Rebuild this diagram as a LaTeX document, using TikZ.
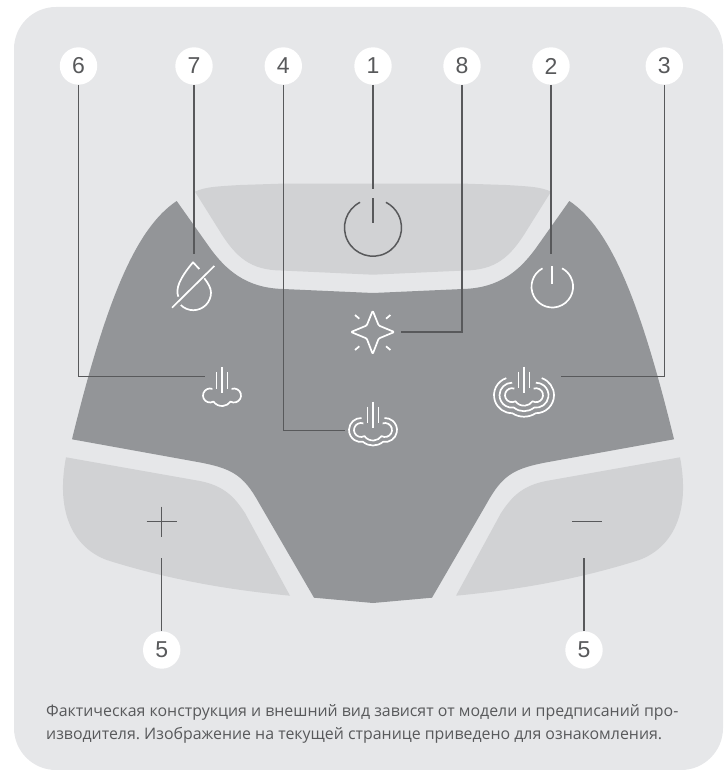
\documentclass[tikz,border=0pt]{standalone}
\usepackage{fontspec}
\setmainfont{Liberation Sans}
\newfontfamily\notefont{Open Sans}
\usepackage{xcolor}
\definecolor{panelgray}{RGB}{230,231,233}
\definecolor{keygray}{RGB}{209,210,212}
\definecolor{bodygray}{RGB}{147,149,152}
\definecolor{linegray}{RGB}{88,89,91}
\tikzset{
  panel/.style={fill=panelgray, rounded corners=42pt},
  softkey/.style={fill=keygray},
  bodyshape/.style={fill=bodygray},
  numcirc/.style={circle, fill=white, inner sep=0pt, minimum size=37.4pt,
    text=linegray, font=\fontsize{23}{23}\selectfont},
  callout/.style={draw=linegray, line width=1.5pt},
  darkicon/.style={draw=linegray, line width=1.5pt},
  whiteicon/.style={draw=white, line width=1.7pt, line join=round},
  note/.style={anchor=north west, inner sep=0pt, align=left, text=linegray,
    font=\notefont\frenchspacing\fontsize{15.9}{22.5}\selectfont}
}
% one outline of the cloud, #3 is the offset from the innermost one
\newcommand{\steamline}[3]{
  \pgfmathsetmacro{\ra}{7+#3}
  \pgfmathsetmacro{\rb}{10.5+#3}
  \pgfmathsetmacro{\ca}{(82.75-7*#3)/24}
  \pgfmathsetmacro{\hh}{sqrt(\ra*\ra-\ca*\ca)}
  \pgfmathsetmacro{\ta}{atan2(\hh,\ca)-360}
  \pgfmathsetmacro{\tb}{atan2(\hh,\ca-12)}
  \pgfmathsetmacro{\ts}{-70-3.5*#3}
  \draw[whiteicon] ({#1-12+\ra*cos(\ts)},{#2+28.5+\ra*sin(\ts)})
    arc[start angle=\ts, end angle=\ta, radius=\ra]
    arc[start angle=\tb, end angle=180-\tb, radius=\rb]
    arc[start angle=180-\ta-360, end angle=-180-\ts, radius=\ra];
}
\newcommand{\steamstems}[2]{
  \draw[whiteicon] (#1,#2) -- (#1,#2+26);
  \draw[whiteicon] (#1-5.6,#2+5) -- (#1-5.6,#2+21.5);
  \draw[whiteicon] (#1+5.6,#2+5) -- (#1+5.6,#2+21.5);
}
\begin{document}
\begin{tikzpicture}[x=1pt, y=-1pt]
  \useasboundingbox (0,0) rectangle (723,770);
  \fill[panel] (14,7) rectangle (723,770);

  % device
  \fill[bodyshape] (176.7,201) -- (210,248) .. controls (226,270) and (246,288) .. (283,289)
    -- (373,293) -- (463,289) .. controls (500,288) and (520,270) .. (536,248) -- (569.3,201)
    .. controls (610,228) and (640,300) .. (674,439.3) -- (550,461.7)
    .. controls (515,468) and (503,474) .. (487,503) -- (432,597.7) -- (373,603) -- (314,597.7)
    -- (259,503) .. controls (243,474) and (231,468) .. (196,461.7) -- (72,439.3)
    .. controls (106,300) and (136,228) .. cycle;
  \fill[softkey] (195,191.7) .. controls (205,187) and (215,186.5) .. (240,185) -- (286,183.5)
    -- (460,183.5) -- (506,185) .. controls (531,186.5) and (541,187) .. (551,191.7)
    -- (527,230) .. controls (510,258) and (495,270) .. (465,270.5) -- (373,274.7)
    -- (281,270.5) .. controls (251,270) and (236,258) .. (219,230) -- cycle;
  \fill[softkey] (66,457.3) -- (200,481) .. controls (225,486) and (235,498) .. (245,513)
    -- (290,595.7) .. controls (230,590) and (170,580) .. (106.7,560)
    .. controls (75,548) and (55,515) .. cycle;
  \fill[softkey] (680,457.3) -- (546,481) .. controls (521,486) and (511,498) .. (501,513)
    -- (456,595.7) .. controls (516,590) and (576,580) .. (639.3,560)
    .. controls (671,548) and (691,515) .. cycle;

  % icons
  \draw[darkicon] (373,227.7) ++(-117:28.5) arc[start angle=-117, end angle=-423, radius=28.5];
  \draw[darkicon] (373,198.3) -- (373,223.3);
  \draw[darkicon] (146.7,521.7) -- (176.7,521.7);
  \draw[darkicon] (161.7,506.7) -- (161.7,536.7);
  \draw[darkicon] (572.3,521.7) -- (601.7,521.7);
  \draw[whiteicon] (552.3,286.7) ++(-118:20.8) arc[start angle=-118, end angle=-422, radius=20.8];
  \draw[whiteicon] (552.3,266) -- (552.3,284);
  \draw[whiteicon] (178.3,296.7) .. controls (175.5,289) and (179,279) .. (193,262.3) -- (199.3,269);
  \draw[whiteicon] (204.3,278.3) .. controls (208,283) and (211,288) .. (211,292.5)
    arc[start angle=0, end angle=135, radius=17.7];
  \draw[whiteicon] (172,307.7) -- (214.3,266);
  \draw[whiteicon, rounded corners=1pt] (372.7,310.7) -- (378.7,325.5) -- (394.3,332) -- (378.7,338.5)
    -- (372.7,354) -- (366.7,338.5) -- (351,332) -- (366.7,325.5) -- cycle;
  \draw[whiteicon] (355,315) -- (359.3,318.7);
  \draw[whiteicon] (390.4,315) -- (386.1,318.7);
  \draw[whiteicon] (355,350) -- (359.3,346.3);
  \draw[whiteicon] (390.4,350) -- (386.1,346.3);
  \steamstems{222}{367}
  \steamline{222}{367}{0}
  \steamstems{373}{401.5}
  \steamline{373}{401.5}{0}
  \steamline{373}{401.5}{5}
  \steamstems{524}{366.7}
  \steamline{524}{366.7}{0}
  \steamline{524}{366.7}{5.5}
  \steamline{524}{366.7}{11}

  % numbers
  \node[numcirc] (c6) at (78.5,66) {6};
  \node[numcirc] (c7) at (194,66) {7};
  \node[numcirc] (c4) at (283.3,66) {4};
  \node[numcirc] (c1) at (373,66) {1};
  \node[numcirc] (c8) at (462,66) {8};
  \node[numcirc] (c2) at (551,66) {2};
  \node[numcirc] (c3) at (664.3,66) {3};
  \node[numcirc] (c5a) at (161.7,650) {5};
  \node[numcirc] (c5b) at (584,650) {5};

  \coordinate (i6) at (205,376.3);
  \coordinate (i7) at (194,254);
  \coordinate (i4) at (345,430.7);
  \coordinate (i1) at (373,189);
  \coordinate (i8) at (400.7,332);
  \coordinate (i2) at (551,254);
  \coordinate (i3) at (560.7,376.3);
  \coordinate (i5a) at (161.7,557.7);
  \coordinate (i5b) at (584,557.7);

  \draw[callout] (c6) |- (i6);
  \draw[callout] (c7) -- (i7);
  \draw[callout] (c4) |- (i4);
  \draw[callout] (c1) -- (i1);
  \draw[callout] (c8) |- (i8);
  \draw[callout] (c2) -- (i2);
  \draw[callout] (c3) |- (i3);
  \draw[callout] (c5a) -- (i5a);
  \draw[callout] (c5b) -- (i5b);

  \node[note] (txt) at (46,704.5) {Фактическая конструкция и внешний вид зависят от модели и предписаний про-\\
    изводителя. Изображение на текущей странице приведено для ознакомления.};
\end{tikzpicture}
\end{document}
